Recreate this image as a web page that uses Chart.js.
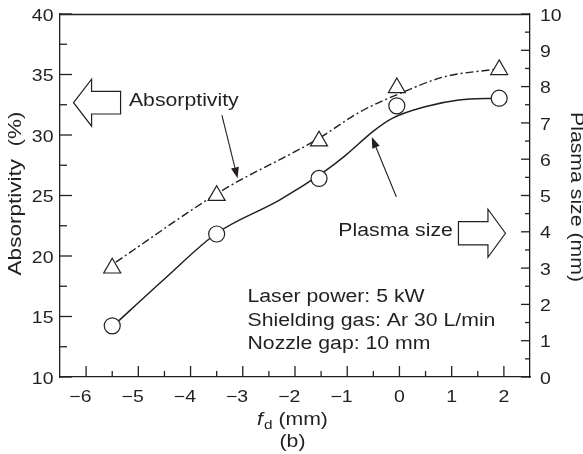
<!DOCTYPE html>
<html>
<head>
<meta charset="utf-8">
<script src="https://cdn.jsdelivr.net/npm/chart.js@4.4.1/dist/chart.umd.min.js"></script>
<style>
    html, body { margin: 0; padding: 0; background: #fff; }
    canvas { display: block; }
</style>
</head>
<body>
<canvas id="fdChart" width="583" height="454"></canvas>
<script>
const FONT = '"Liberation Sans", Arial, Helvetica, sans-serif';
const INK = '#231f20';
const SX = 1.18; // wide lettering

// measured points, f_d in mm
const fdPoints = [-5.5, -3.5, -1.54, -0.05, 1.91];
const absorptivity = [19.0, 25.0, 29.5, 33.9, 35.4];
const plasmaSize = [1.41, 3.94, 5.47, 7.47, 7.68];

// trend curves drawn through the data
const absFitFd = [-5.43, -3.4, -1.55, -0.76, 0.1, 0.85, 1.85];
const absFitVal = [19.5, 25.4, 29.7, 31.9, 33.6, 34.8, 35.45];
const plasmaFitFd = [-5.48, -4.5, -3.5, -2.29, -1.4, -1.02, -0.51, -0.13, 0.51, 1.14, 1.9];
const plasmaFitVal = [1.41, 2.7, 3.96, 4.88, 5.7, 6.12, 6.76, 7.13, 7.45, 7.63, 7.68];

const xTicks = [-6, -5, -4, -3, -2, -1, 0, 1, 2];
const yTicks = [10, 15, 20, 25, 30, 35, 40];
const y2Ticks = [0, 1, 2, 3, 4, 5, 6, 7, 8, 9, 10];
const xMinor = [-5.5, -4.5, -3.5, -2.5, -1.5, -0.5, 0.5, 1.5];
const yMinor = [12.5, 17.5, 22.5, 27.5, 32.5, 37.5];
const y2Minor = [0.5, 1.5, 2.5, 3.5, 4.5, 5.5, 6.5, 7.5, 8.5, 9.5];

const conditions = ['Laser power: 5 kW', 'Shielding gas: Ar 30 L/min', 'Nozzle gap: 10 mm'];
const conditionY = [16.17, 14.24, 12.31];

const toXY = (xs, ys) => xs.map((v, i) => ({ x: v, y: ys[i] }));
const fmtTick = v => v < 0 ? '\u2212' + (-v) : String(v);

function line(ctx, x1, y1, x2, y2) {
    ctx.beginPath();
    ctx.moveTo(x1, y1);
    ctx.lineTo(x2, y2);
    ctx.stroke();
}

function setFont(ctx, size, italic) {
    ctx.font = (italic ? 'italic ' : '') + size + 'px ' + FONT;
}

function textWidth(ctx, str, size, italic) {
    setFont(ctx, size, italic);
    return ctx.measureText(str).width * SX;
}

function text(ctx, str, x, y, opts = {}) {
    ctx.save();
    ctx.translate(x, y);
    if (opts.rot) ctx.rotate(opts.rot);
    ctx.scale(opts.sx || SX, 1);
    setFont(ctx, opts.size || 18, opts.italic);
    ctx.textAlign = opts.align || 'left';
    ctx.textBaseline = 'alphabetic';
    ctx.fillStyle = INK;
    ctx.fillText(str, 0, 0);
    ctx.restore();
}

// hollow block arrow, dir = -1 points left, +1 points right
function blockArrow(ctx, tipX, tipY, dir, len, headLen, headHalf, shaftHalf) {
    const baseX = tipX - dir * headLen;
    const endX = tipX - dir * len;
    ctx.beginPath();
    ctx.moveTo(tipX, tipY);
    ctx.lineTo(baseX, tipY - headHalf);
    ctx.lineTo(baseX, tipY - shaftHalf);
    ctx.lineTo(endX, tipY - shaftHalf);
    ctx.lineTo(endX, tipY + shaftHalf);
    ctx.lineTo(baseX, tipY + shaftHalf);
    ctx.lineTo(baseX, tipY + headHalf);
    ctx.closePath();
    ctx.fillStyle = '#fff';
    ctx.fill();
    ctx.stroke();
}

function pointerArrow(ctx, x1, y1, x2, y2) {
    const ang = Math.atan2(y2 - y1, x2 - x1);
    const hl = 11, hw = 4;
    const bx = x2 - Math.cos(ang) * hl, by = y2 - Math.sin(ang) * hl;
    line(ctx, x1, y1, bx, by);
    ctx.beginPath();
    ctx.moveTo(x2, y2);
    ctx.lineTo(bx + Math.sin(ang) * hw, by - Math.cos(ang) * hw);
    ctx.lineTo(bx - Math.sin(ang) * hw, by + Math.cos(ang) * hw);
    ctx.closePath();
    ctx.fillStyle = INK;
    ctx.fill();
}

const decorPlugin = {
    id: 'decor',
    afterDraw(chart) {
        const { ctx, chartArea: a } = chart;
        const { x, y, y2 } = chart.scales;
        ctx.save();
        ctx.strokeStyle = INK;
        ctx.lineWidth = 1.3;

        // top frame
        line(ctx, a.left, a.top + 0.5, a.right, a.top + 0.5);

        // inward tick marks
        yTicks.forEach(v => line(ctx, a.left, y.getPixelForValue(v), a.left + 12, y.getPixelForValue(v)));
        yMinor.forEach(v => line(ctx, a.left, y.getPixelForValue(v), a.left + 7, y.getPixelForValue(v)));
        y2Ticks.forEach(v => line(ctx, a.right, y2.getPixelForValue(v), a.right - 9, y2.getPixelForValue(v)));
        y2Minor.forEach(v => line(ctx, a.right, y2.getPixelForValue(v), a.right - 5, y2.getPixelForValue(v)));
        xTicks.forEach(v => line(ctx, x.getPixelForValue(v), a.bottom, x.getPixelForValue(v), a.bottom - 11));
        xMinor.forEach(v => line(ctx, x.getPixelForValue(v), a.bottom, x.getPixelForValue(v), a.bottom - 6));

        // tick labels
        const tsz = 16.5;
        yTicks.forEach(v => text(ctx, fmtTick(v), a.left - 6.5, y.getPixelForValue(v) + 6.6, { size: tsz, align: 'right' }));
        y2Ticks.forEach(v => text(ctx, fmtTick(v), a.right + 10, y2.getPixelForValue(v) + 6.6, { size: tsz }));
        xTicks.forEach(v => {
            const digitW = textWidth(ctx, String(Math.abs(v)), tsz);
            text(ctx, fmtTick(v), x.getPixelForValue(v) + digitW / 2, a.bottom + 24.7, { size: tsz, align: 'right' });
        });

        // block arrows showing which axis belongs to which curve
        ctx.lineWidth = 1.2;
        blockArrow(ctx, x.getPixelForValue(-6.24), y.getPixelForValue(32.67), -1, 47, 18, 23.5, 11.3);
        blockArrow(ctx, x.getPixelForValue(2.03), y.getPixelForValue(21.88), 1, 47, 17.5, 24, 11.7);

        // pointers to the curves
        ctx.lineWidth = 1.1;
        pointerArrow(ctx, x.getPixelForValue(-3.4), y.getPixelForValue(31.65), x.getPixelForValue(-3.1), y.getPixelForValue(26.42));
        pointerArrow(ctx, x.getPixelForValue(-0.06), y.getPixelForValue(24.9), x.getPixelForValue(-0.53), y.getPixelForValue(29.83));

        text(ctx, 'Absorptivity', x.getPixelForValue(-5.18), y.getPixelForValue(32.42));
        text(ctx, 'Plasma size', x.getPixelForValue(-1.17), y.getPixelForValue(21.65));
        conditions.forEach((t, i) => text(ctx, t, x.getPixelForValue(-2.91), y.getPixelForValue(conditionY[i])));

        // axis titles
        const midY = (a.top + a.bottom) / 2;
        text(ctx, 'Absorptivity  (%)', 20.7, midY - 2, { rot: -Math.PI / 2, align: 'center', sx: 1.25 });
        text(ctx, 'Plasma size (mm)', 571, midY + 1.5, { rot: Math.PI / 2, align: 'center', sx: 1.18 });

        // f_d (mm) with italic f and subscript d, then panel tag
        const midX = (a.left + a.right) / 2 - 2.5;
        const wf = textWidth(ctx, 'f', 18, true);
        const wd = textWidth(ctx, 'd', 13);
        const wr = textWidth(ctx, ' (mm)', 18);
        let tx = midX - (wf + wd + 1 + wr) / 2;
        text(ctx, 'f', tx, 425, { italic: true });
        tx += wf + 1;
        text(ctx, 'd', tx, 428.5, { size: 13 });
        tx += wd;
        text(ctx, ' (mm)', tx, 425);
        text(ctx, '(b)', midX, 446.5, { align: 'center' });

        ctx.restore();
    }
};

const hiddenTicks = { display: false };

new Chart(document.getElementById('fdChart'), {
    type: 'scatter',
    data: {
        datasets: [
            {
                label: 'Absorptivity',
                data: toXY(fdPoints, absorptivity),
                yAxisID: 'y',
                pointStyle: 'triangle',
                pointRadius: 9.8,
                pointBackgroundColor: '#fff',
                pointBorderColor: INK,
                pointBorderWidth: 1.2,
                order: 0
            },
            {
                label: 'Plasma size',
                data: toXY(fdPoints, plasmaSize),
                yAxisID: 'y2',
                pointStyle: 'circle',
                pointRadius: 8,
                pointBackgroundColor: '#fff',
                pointBorderColor: INK,
                pointBorderWidth: 1.2,
                order: 0
            },
            {
                label: 'Absorptivity trend',
                data: toXY(absFitFd, absFitVal),
                yAxisID: 'y',
                showLine: true,
                pointRadius: 0,
                borderColor: INK,
                borderWidth: 1.4,
                borderDash: [8, 3, 2, 3],
                cubicInterpolationMode: 'monotone',
                order: 1
            },
            {
                label: 'Plasma size trend',
                data: toXY(plasmaFitFd, plasmaFitVal),
                yAxisID: 'y2',
                showLine: true,
                pointRadius: 0,
                borderColor: INK,
                borderWidth: 1.5,
                cubicInterpolationMode: 'monotone',
                order: 1
            }
        ]
    },
    options: {
        responsive: false,
        animation: false,
        layout: { padding: { top: 14, left: 0, right: 0, bottom: 0 } },
        plugins: { legend: { display: false }, tooltip: { enabled: false } },
        scales: {
            x: {
                type: 'linear',
                min: -6.5,
                max: 2.5,
                afterBuildTicks: s => { s.ticks = xTicks.map(v => ({ value: v })); },
                afterFit: s => { s.height = 77; },
                grid: { display: false, drawTicks: false },
                border: { display: true, color: INK, width: 1.3 },
                ticks: hiddenTicks
            },
            y: {
                position: 'left',
                min: 10,
                max: 40,
                afterBuildTicks: s => { s.ticks = yTicks.map(v => ({ value: v })); },
                afterFit: s => { s.width = 60; },
                grid: { display: false, drawTicks: false },
                border: { display: true, color: INK, width: 1.3 },
                ticks: hiddenTicks
            },
            y2: {
                position: 'right',
                min: 0,
                max: 10,
                afterBuildTicks: s => { s.ticks = y2Ticks.map(v => ({ value: v })); },
                afterFit: s => { s.width = 53; },
                grid: { display: false, drawTicks: false },
                border: { display: true, color: INK, width: 1.3 },
                ticks: hiddenTicks
            }
        }
    },
    plugins: [decorPlugin]
});
</script>
</body>
</html>
